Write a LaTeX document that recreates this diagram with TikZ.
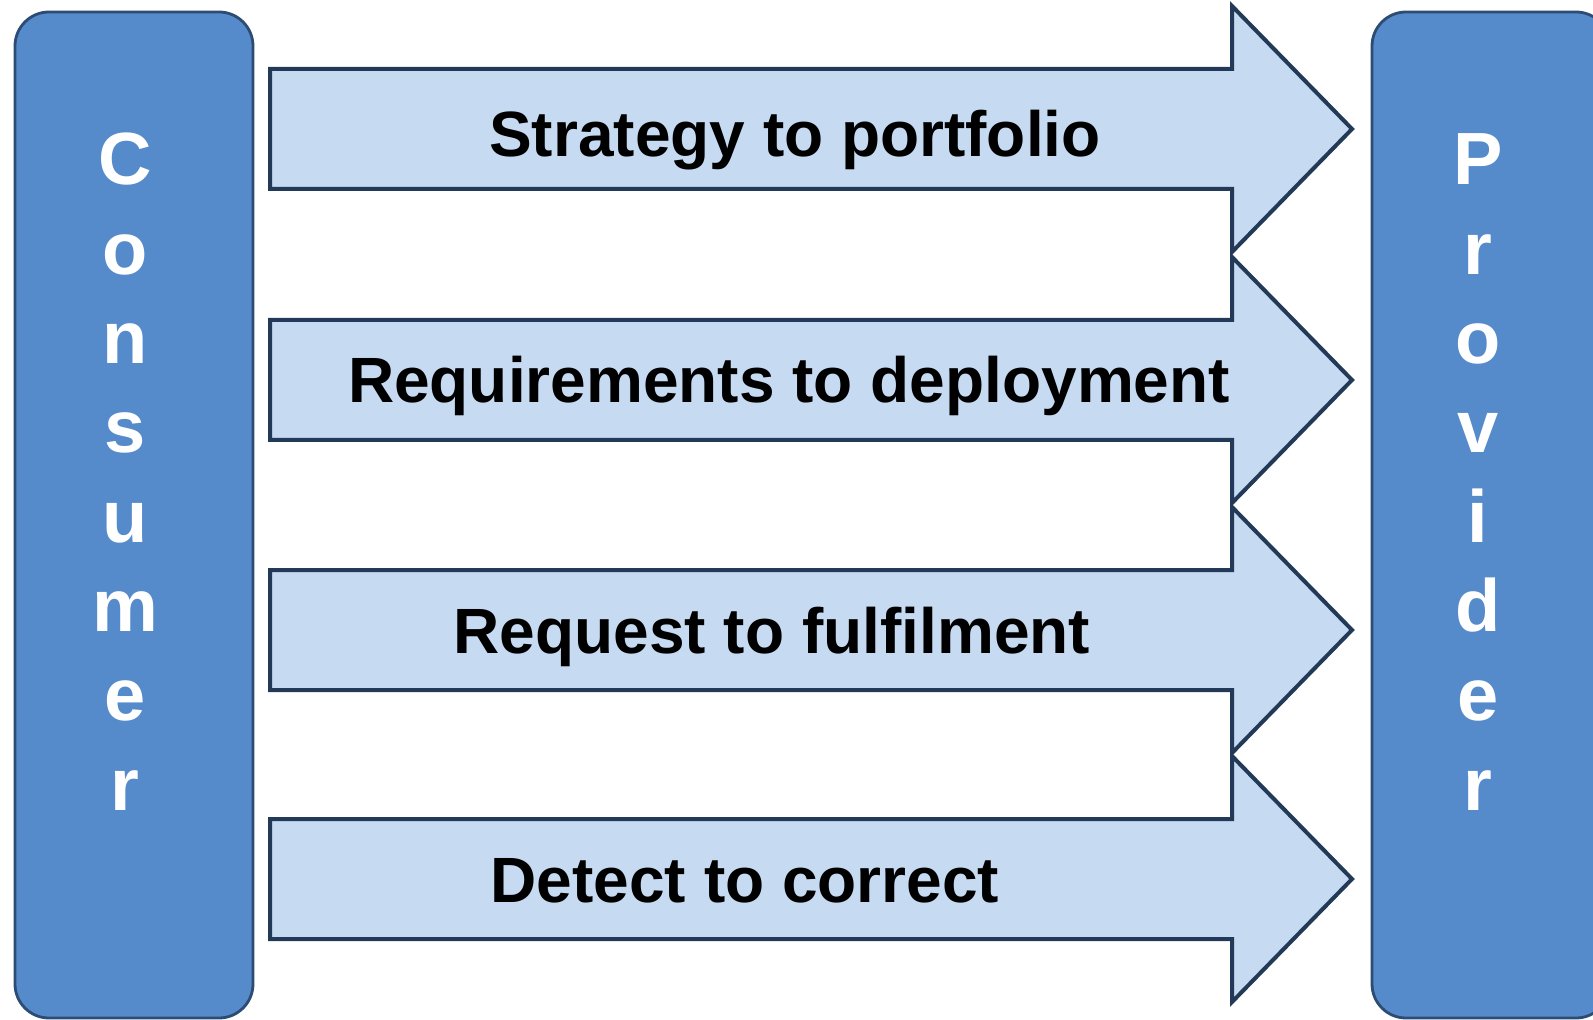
\documentclass[tikz,border=0pt]{standalone}
\usepackage{fontspec}
\setmainfont{Liberation Sans}
\usetikzlibrary{positioning}

\definecolor{barblue}{RGB}{86,139,203}
\definecolor{baredge}{RGB}{44,76,116}
\definecolor{arrowfill}{RGB}{198,218,242}
\definecolor{arrowedge}{RGB}{34,58,88}

\begin{document}
\begin{tikzpicture}[
  x=0.5pt, y=-0.5pt,
  every node/.style={font=\bfseries},
  bar/.style={draw=baredge, line width=1.4pt, fill=barblue, rounded corners=17pt, minimum width=119pt, minimum height=503pt, inner sep=0pt},
  vletter/.style={text=white, font=\fontsize{37}{44}\selectfont\bfseries, inner sep=0pt, anchor=base},
  blockarrow/.style={draw=arrowedge, line width=2pt, fill=arrowfill, line join=miter},
  arrowtext/.style={text=black, font=\fontsize{32}{38}\selectfont\bfseries, inner sep=0pt, anchor=base}
]
\useasboundingbox (0,0) rectangle (1593,1020);
\clip (0,0) rectangle (1593,1020);

% === SIDE BARS ===
\node[bar] (consumer) at (134,515) {};
\node[bar] (provider) at (1491,515) {};

\foreach \ch [count=\i from 0] in {C,o,n,s,u,m,e,r}
  \node[vletter] (cons\i) at (125,185+89.3*\i) {\ch};
\foreach \ch [count=\i from 0] in {P,r,o,v,i,d,e,r}
  \node[vletter] (prov\i) at (1478,185+89.3*\i) {\ch};

% === BLOCK ARROWS ===
\foreach \yc in {129,380,630,879}
  \draw[blockarrow] (270,\yc-60) -- (1232,\yc-60) -- (1232,\yc-123) -- (1352,\yc)
    -- (1232,\yc+123) -- (1232,\yc+60) -- (270,\yc+60) -- cycle;

% === ARROW LABELS ===
\node[arrowtext] (s2p) at (795,157) {Strategy to portfolio};
\node[arrowtext] (r2d) at (789,403) {Requirements to deployment};
\node[arrowtext] (r2f) at (772,653) {Request to fulfilment};
\node[arrowtext] (d2c) at (745,902) {Detect to correct};

\end{tikzpicture}
\end{document}
